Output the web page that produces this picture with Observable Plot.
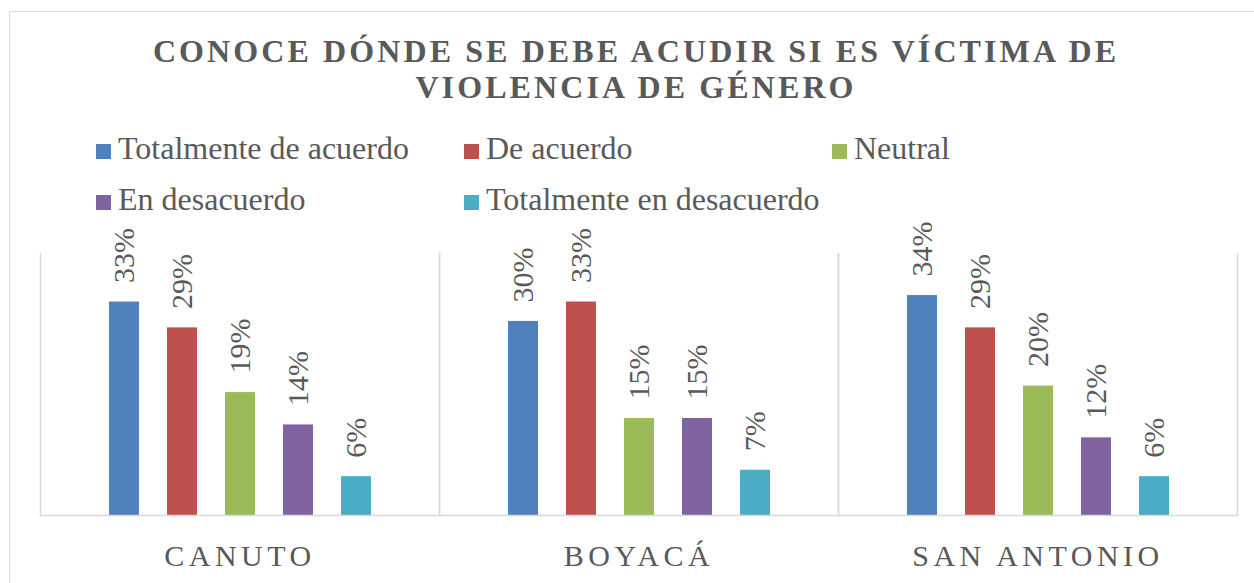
<!DOCTYPE html>
<html>
<head>
<meta charset="utf-8">
<script src="https://cdn.jsdelivr.net/npm/d3@7"></script>
<script src="https://cdn.jsdelivr.net/npm/@observablehq/plot@0.6"></script>
<style>
  html, body { margin: 0; padding: 0; background: #ffffff; }
  body { width: 1254px; height: 583px; position: relative; overflow: hidden; font-family: "Liberation Serif", "Times New Roman", serif; }
  #box { position: absolute; left: 9px; top: 11px; width: 1300px; height: 700px; border: 1.5px solid #d9d9d9; box-sizing: border-box; }
  #title { position: absolute; left: 0; top: 33px; width: 1272px; text-align: center; font-weight: bold; font-size: 32px; line-height: 36px; letter-spacing: 3.1px; color: #595959; }
  #legend { position: absolute; left: 96px; top: 123px; width: 1150px; font-size: 32px; line-height: 51px; color: #595959; }
  .item { display: inline-block; width: 368px; white-space: nowrap; }
  .sw { display: inline-block; width: 15px; height: 15px; margin-right: 7px; }
  #chart { position: absolute; left: 0; top: 200px; }
  #chart svg { overflow: visible; font-family: "Liberation Serif", "Times New Roman", serif; }
  #chart svg text { font-family: "Liberation Serif", "Times New Roman", serif; }
  #chart g[aria-label="fx-axis tick label"] text { letter-spacing: 4.5px; }
</style>
</head>
<body>
<div id="box"></div>
<div id="title">CONOCE DÓNDE SE DEBE ACUDIR SI ES VÍCTIMA DE<br>VIOLENCIA DE GÉNERO</div>
<div id="legend"></div>
<div id="chart"></div>
<script>
const groups = ["CANUTO", "BOYACÁ", "SAN ANTONIO"];
const series = ["Totalmente de acuerdo", "De acuerdo", "Neutral", "En desacuerdo", "Totalmente en desacuerdo"];
const canuto = [33, 29, 19, 14, 6];
const boyaca = [30, 33, 15, 15, 7];
const sanAntonio = [34, 29, 20, 12, 6];
const colors = ["#4F81BD", "#C0504D", "#9BBB59", "#8064A2", "#4BACC6"];

const valuesByGroup = [canuto, boyaca, sanAntonio];
const data = [];
groups.forEach((g, gi) => {
  series.forEach((s, si) => {
    data.push({group: g, serie: s, value: valuesByGroup[gi][si]});
  });
});

// legend
const legend = document.getElementById("legend");
series.forEach((s, i) => {
  const item = document.createElement("span");
  item.className = "item";
  const sw = document.createElement("span");
  sw.className = "sw";
  sw.style.background = colors[i];
  item.appendChild(sw);
  item.appendChild(document.createTextNode(s));
  legend.appendChild(item);
});

const serif = "Liberation Serif";
const chart = Plot.plot({
  width: 1254,
  height: 383,
  marginLeft: 39,
  marginRight: 17,
  marginTop: 53,
  marginBottom: 68,
  style: {fontFamily: "'Liberation Serif', 'Times New Roman', serif", background: "transparent", color: "#595959"},
  fx: {domain: groups, padding: 0, label: null},
  x: {domain: series, paddingInner: 0.485, paddingOuter: 1.17, axis: null},
  y: {domain: [0, 40.5], axis: null},
  color: {domain: series, range: colors},
  marks: [
    Plot.barY(data, {fx: "group", x: "serie", y: "value", fill: "serie"}),
    Plot.text(data, {fx: "group", x: "serie", y: "value", text: d => d.value + "%", rotate: -90, textAnchor: "start", dy: -19, fontSize: 30, fontFamily: serif, fill: "#595959"}),
    Plot.frame({anchor: "left", stroke: "#d9d9d9", strokeWidth: 1.5}),
    Plot.frame({anchor: "right", stroke: "#d9d9d9", strokeWidth: 1.5}),
    Plot.ruleY([0], {stroke: "#d9d9d9", strokeWidth: 1.5}),
    Plot.axisFx({anchor: "bottom", tickSize: 0, tickPadding: 29, fontSize: 30, fontFamily: serif, color: "#595959", label: null})
  ]
});
document.getElementById("chart").appendChild(chart);
</script>
</body>
</html>
